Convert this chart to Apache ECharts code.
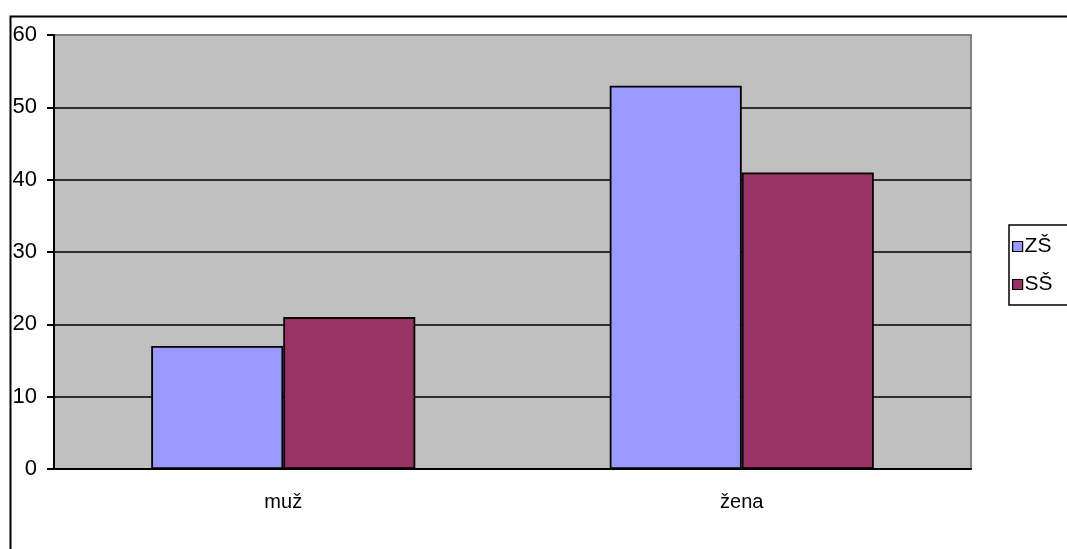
<!DOCTYPE html>
<html>
<head>
<meta charset="utf-8">
<script src="https://cdn.jsdelivr.net/npm/echarts@6/dist/echarts.min.js"></script>
<style>
  html, body { margin: 0; padding: 0; background: #ffffff; }
  #chart { width: 1067px; height: 549px; }
</style>
</head>
<body>
<div id="chart"></div>
<script>
// Categories and series values
const categories = ['muž', 'žena'];
const seriesNames = ['ZŠ', 'SŠ'];
const valuesZS = [17, 53];
const valuesSS = [21, 41];
const yTicks = { min: 0, max: 60, interval: 10 };

const FONT = '"Liberation Sans", Arial, sans-serif';
const chart = echarts.init(document.getElementById('chart'), null, { renderer: 'canvas' });

const barBorder = { borderColor: '#000000', borderWidth: 1.8 };

chart.setOption({
  backgroundColor: '#ffffff',
  animation: false,
  textStyle: { fontFamily: FONT, color: '#000000' },
  graphic: [
    {
      type: 'rect',
      left: 8, top: 14,
      shape: { x: 0, y: 0, width: 1100, height: 600 },
      style: { fill: 'none', stroke: '#000000', lineWidth: 2 },
      silent: true,
      z: 0
    }
  ],
  grid: {
    left: 54, right: 96, top: 35, bottom: 80,
    show: true,
    backgroundColor: '#c0c0c0',
    borderColor: '#808080',
    borderWidth: 2
  },
  legend: {
    left: 1009, top: 225,
    orient: 'vertical',
    icon: 'rect',
    itemWidth: 10, itemHeight: 10,
    itemGap: 17,
    padding: [11, 40, 10, 3],
    borderColor: '#000000',
    borderWidth: 1.5,
    backgroundColor: '#ffffff',
    itemStyle: { borderColor: '#000000', borderWidth: 1.2 },
    textStyle: { fontFamily: FONT, fontSize: 21, color: '#000000', padding: [0, 0, 0, -3] },
    data: seriesNames
  },
  xAxis: {
    type: 'category',
    data: categories,
    axisLine: { lineStyle: { color: '#000000', width: 2 } },
    axisTick: { length: 7, lineStyle: { color: '#000000', width: 2 } },
    axisLabel: { fontFamily: FONT, fontSize: 20, color: '#000000', margin: 23 },
    splitLine: { show: false }
  },
  yAxis: {
    type: 'value',
    min: yTicks.min, max: yTicks.max, interval: yTicks.interval,
    axisLine: { show: true, lineStyle: { color: '#000000', width: 2 } },
    axisTick: { show: true, length: 7, lineStyle: { color: '#000000', width: 2 } },
    axisLabel: { fontFamily: FONT, fontSize: 22, color: '#000000', margin: 17 },
    splitLine: {
      show: true,
      lineStyle: { color: ['#000000', '#000000', '#000000', '#000000', '#000000', '#000000', '#808080'], width: 1.5 }
    }
  },
  series: [
    {
      name: seriesNames[0],
      type: 'bar',
      data: valuesZS,
      barGap: '0%',
      barCategoryGap: '42.4%',
      itemStyle: Object.assign({ color: '#9999ff' }, barBorder)
    },
    {
      name: seriesNames[1],
      type: 'bar',
      data: valuesSS,
      barGap: '0%',
      barCategoryGap: '42.4%',
      itemStyle: Object.assign({ color: '#993366' }, barBorder)
    }
  ]
});
</script>
</body>
</html>
